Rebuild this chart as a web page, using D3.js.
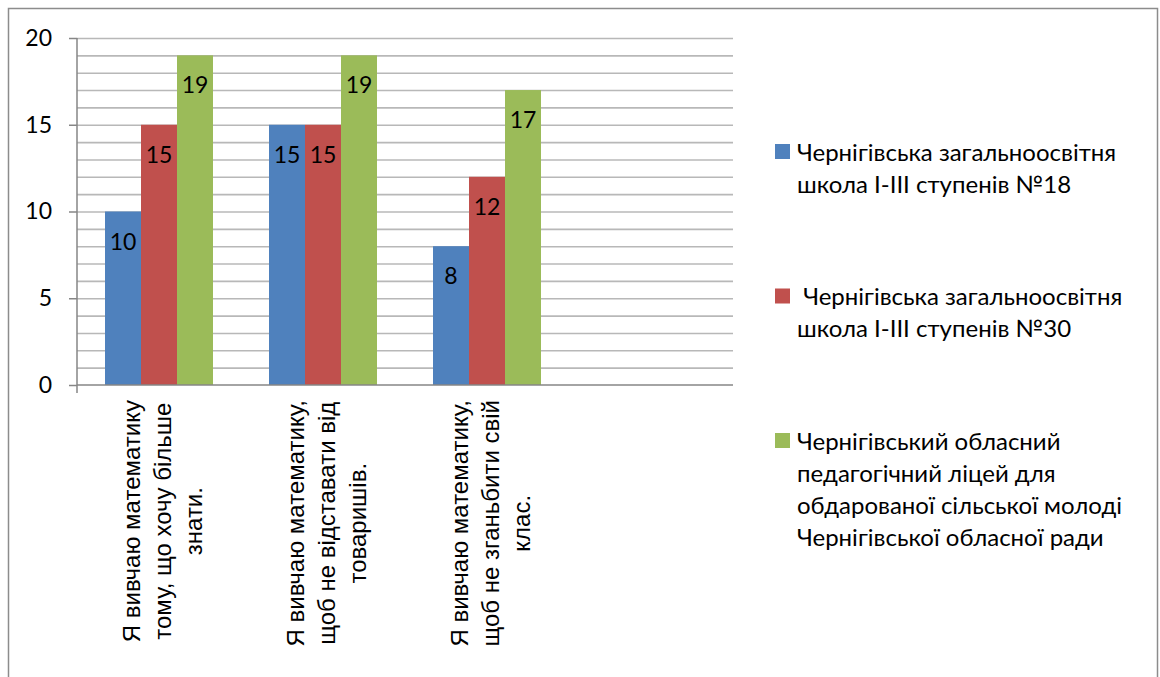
<!DOCTYPE html>
<html>
<head>
<meta charset="utf-8">
<script src="https://cdn.jsdelivr.net/npm/d3@7"></script>
<style>
  html, body { margin: 0; padding: 0; background: #fff; }
  text { white-space: pre; }
</style>
</head>
<body>
<div id="chart"></div>
<script>
// data
var categories = ["q1", "q2", "q3", ""];   // last slot is empty in the original sheet
var categoryLines = [
	["Я вивчаю математику", "тому, що хочу більше", "знати."],
	["Я вивчаю математику,", "щоб не відставати від", "товаришів."],
	["Я вивчаю математику,", "щоб не зганьбити свій", "клас."],
	[]
];
var seriesKeys = ["s18", "s30", "lyceum"];
var seriesNames = [
	["Чернігівська загальноосвітня", "школа І-ІІІ ступенів №18"],
	[" Чернігівська загальноосвітня", "школа І-ІІІ ступенів №30"],
	["Чернігівський обласний", "педагогічний ліцей для", "обдарованої сільської молоді", "Чернігівської обласної ради"]
];
var seriesColors = ["#4f81bd", "#c0504d", "#9bbb59"];
var valuesS18 = [10, 15, 8];
var valuesS30 = [15, 15, 12];
var valuesLyceum = [19, 19, 17];
var yTicks = [0, 5, 10, 15, 20];

var W = 1160, H = 677;
var plot = { left: 77, right: 733, top: 38, bottom: 385 };
var numFont = "Lato, 'Open Sans', sans-serif";

var svg = d3.select("#chart").append("svg")
	.attr("width", W)
	.attr("height", H);

// outer frame (bottom edge falls outside the picture)
svg.append("rect")
	.attr("x", 8.5).attr("y", 8.5)
	.attr("width", 1149).attr("height", 720)
	.attr("fill", "none")
	.attr("stroke", "#8c8c8c")
	.attr("stroke-width", 1.5);

var x0 = d3.scaleBand().domain(categories).range([plot.left, plot.right]).padding(0);
var x1 = d3.scaleBand().domain(seriesKeys).range([0, x0.bandwidth()])
	.paddingInner(0).paddingOuter(0.778);
var y = d3.scaleLinear().domain([0, 20]).range([plot.bottom, plot.top]);

// minor gridlines every 1 unit
svg.append("g").selectAll("line")
	.data(d3.range(1, 21))
	.join("line")
	.attr("x1", plot.left).attr("x2", plot.right)
	.attr("y1", d => y(d) + 0.5).attr("y2", d => y(d) + 0.5)
	.attr("stroke", "#b8b8b8")
	.attr("stroke-width", 1.6);

// bars
var rows = categories.slice(0, 3).map((c, i) => ({
	cat: c,
	vals: [valuesS18[i], valuesS30[i], valuesLyceum[i]]
}));

var groups = svg.append("g").selectAll("g")
	.data(rows)
	.join("g")
	.attr("transform", d => `translate(${x0(d.cat)},0)`);

groups.selectAll("rect")
	.data(d => d.vals.map((v, j) => ({ key: seriesKeys[j], v: v, j: j })))
	.join("rect")
	.attr("x", d => x1(d.key))
	.attr("y", d => y(d.v))
	.attr("width", x1.bandwidth())
	.attr("height", d => y(0) - y(d.v))
	.attr("fill", d => seriesColors[d.j]);

groups.selectAll("text")
	.data(d => d.vals.map((v, j) => ({ key: seriesKeys[j], v: v })))
	.join("text")
	.attr("x", d => x1(d.key) + x1.bandwidth() / 2)
	.attr("y", d => y(d.v) + 38)
	.attr("text-anchor", "middle")
	.style("font-family", numFont)
	.style("font-size", "23px")
	.attr("fill", "#000")
	.text(d => d.v);

// y axis
var yAxis = svg.append("g")
	.attr("transform", `translate(${plot.left},0)`)
	.call(d3.axisLeft(y).tickValues(yTicks).tickSize(8).tickPadding(17));
yAxis.select(".domain").attr("stroke", "#868686").attr("stroke-width", 1.5)
	.attr("d", `M0,${plot.top}V${plot.bottom + 8}`);
yAxis.selectAll(".tick line").attr("stroke", "#868686").attr("stroke-width", 1.5);
yAxis.selectAll(".tick text")
	.style("font-family", numFont)
	.style("font-size", "23px")
	.attr("fill", "#000");

// x axis line
svg.append("line")
	.attr("x1", plot.left).attr("x2", plot.right)
	.attr("y1", plot.bottom).attr("y2", plot.bottom)
	.attr("stroke", "#868686").attr("stroke-width", 1.5);

// category labels, rotated
var labelLineH = 31;
var catLabels = svg.append("g").selectAll("g")
	.data(categories.map((c, i) => ({ cat: c, lines: categoryLines[i] })).filter(d => d.lines.length))
	.join("g");

catLabels.each(function (d) {
	var g = d3.select(this);
	var cx = x0(d.cat) + x0.bandwidth() / 2;
	var n = d.lines.length;
	var texts = g.selectAll("text")
		.data(d.lines)
		.join("text")
		.attr("text-anchor", "middle")
		.style("font-family", "'Liberation Sans', Arial, sans-serif")
		.style("font-size", "24px")
		.attr("fill", "#000")
		.text(t => t);
	var maxLen = d3.max(texts.nodes(), n => n.getComputedTextLength());
	var cy = plot.bottom + 15 + maxLen / 2;
	texts.attr("transform", (t, i) =>
		`translate(${cx + (i - (n - 1) / 2) * labelLineH + 12},${cy}) rotate(-90)`);
});

// legend
var legendX = 775, legendTop = 152, itemStep = 144.5, legendLineH = 32.3;
var legend = svg.append("g").selectAll("g")
	.data(seriesNames)
	.join("g")
	.attr("transform", (d, i) => `translate(${legendX},${legendTop + i * itemStep})`);

legend.append("rect")
	.attr("x", 0).attr("y", -8)
	.attr("width", 15).attr("height", 15)
	.attr("fill", (d, i) => seriesColors[i]);

legend.selectAll("text")
	.data(d => d)
	.join("text")
	.attr("x", 22)
	.attr("y", (t, i) => i * legendLineH + 8.5)
	.style("font-family", numFont)
	.style("font-size", "24px")
	.attr("fill", "#000")
	.text(t => t);
</script>
</body>
</html>
